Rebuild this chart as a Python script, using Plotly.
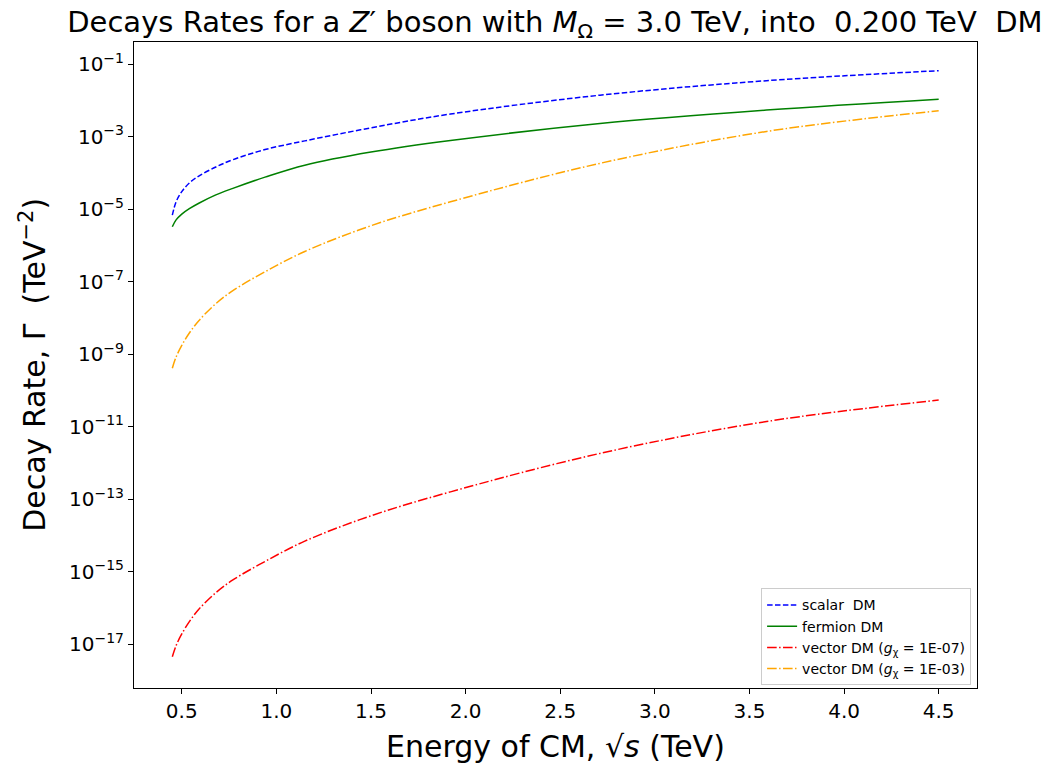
import plotly.graph_objects as go

# Centre-of-mass energy sqrt(s) in TeV
energy_tev = [0.45, 0.47, 0.50, 0.54, 0.59, 0.68, 0.77, 0.94, 1.15, 1.5, 1.92, 2.71, 3.59, 4.5]

# Decay rates Gamma (TeV^-2), stored as log10 values
log_scalar = [-5.17, -4.80, -4.52, -4.28, -4.09, -3.84, -3.64, -3.36, -3.12, -2.76, -2.38, -1.86, -1.46, -1.185]
log_fermion = [-5.49, -5.30, -5.14, -4.99, -4.84, -4.61, -4.43, -4.12, -3.79, -3.43, -3.11, -2.64, -2.27, -1.97]
log_vector_g7 = [-17.35, -17.04, -16.72, -16.38, -16.04, -15.58, -15.23, -14.72, -14.16, -13.46, -12.80, -11.74, -10.86, -10.27]
log_vector_g3 = [-9.39, -9.08, -8.76, -8.42, -8.08, -7.61, -7.25, -6.73, -6.17, -5.46, -4.80, -3.74, -2.86, -2.29]

x_ticks = [0.5, 1.0, 1.5, 2.0, 2.5, 3.0, 3.5, 4.0, 4.5]
y_tick_exponents = [-1, -3, -5, -7, -9, -11, -13, -15, -17]

DASHED = "5.5px,2.4px"
DASHDOT = "9.6px,2.4px,1.5px,2.4px"

series = [
    ("scalar  DM", log_scalar, "blue", DASHED),
    ("fermion DM", log_fermion, "green", "solid"),
    ("vector DM (<i>g</i><sub>χ</sub> = 1E-07)", log_vector_g7, "red", DASHDOT),
    ("vector DM (<i>g</i><sub>χ</sub> = 1E-03)", log_vector_g3, "orange", DASHDOT),
]

fig = go.Figure()
for name, logs, color, dash in series:
    fig.add_trace(go.Scatter(
        x=energy_tev,
        y=[10 ** v for v in logs],
        mode="lines",
        name=name,
        line=dict(color=color, dash=dash, width=1.5, shape="spline", smoothing=1.0),
    ))

font_family = "DejaVu Sans"

fig.update_layout(
    width=1051,
    height=769,
    margin=dict(l=134, r=74, t=42, b=81),
    paper_bgcolor="white",
    plot_bgcolor="white",
    font=dict(family=font_family, color="black"),
    title=dict(
        text="Decays Rates for a <i>Z</i>′ boson with <i>M</i><sub>Ω</sub> = 3.0 TeV, into  0.200 TeV  DM",
        x=0.528, xanchor="center", y=0.972, yanchor="middle",
        font=dict(size=29, family=font_family),
    ),
    legend=dict(
        x=0.993, y=0.004, xanchor="right", yanchor="bottom",
        bgcolor="rgba(255,255,255,0.8)",
        bordercolor="#cccccc", borderwidth=1,
        font=dict(size=14, family=font_family),
        tracegroupgap=6,
    ),
    showlegend=True,
)

fig.update_xaxes(
    range=[0.2475, 4.7025],
    tickvals=x_ticks,
    ticktext=[f"{v:.1f}" for v in x_ticks],
    ticks="outside", ticklen=5, tickwidth=1, tickcolor="black",
    tickfont=dict(size=20, family=font_family),
    showline=True, linecolor="black", linewidth=1, mirror=True,
    showgrid=False, zeroline=False,
)

fig.update_yaxes(
    type="log",
    range=[-18.21, -0.393],
    tickvals=[10 ** e for e in y_tick_exponents],
    ticktext=[f"10<sup>−{abs(e)}</sup>" for e in y_tick_exponents],
    ticks="outside", ticklen=5, tickwidth=1, tickcolor="black",
    tickfont=dict(size=20, family=font_family),
    showline=True, linecolor="black", linewidth=1, mirror=True,
    showgrid=False, zeroline=False,
)

# Axis titles
fig.add_annotation(
    text="Energy of CM, √<i>s</i> (TeV)",
    xref="paper", yref="paper", x=0.5, y=-0.09,
    xanchor="center", yanchor="middle", showarrow=False,
    font=dict(size=30, family=font_family),
)
fig.add_annotation(
    text="Decay Rate, Γ  (TeV<sup>−2</sup>)",
    xref="paper", yref="paper", x=-0.12, y=0.5,
    xanchor="center", yanchor="middle", textangle=-90, showarrow=False,
    font=dict(size=30, family=font_family),
)

fig.write_html("out.html")
